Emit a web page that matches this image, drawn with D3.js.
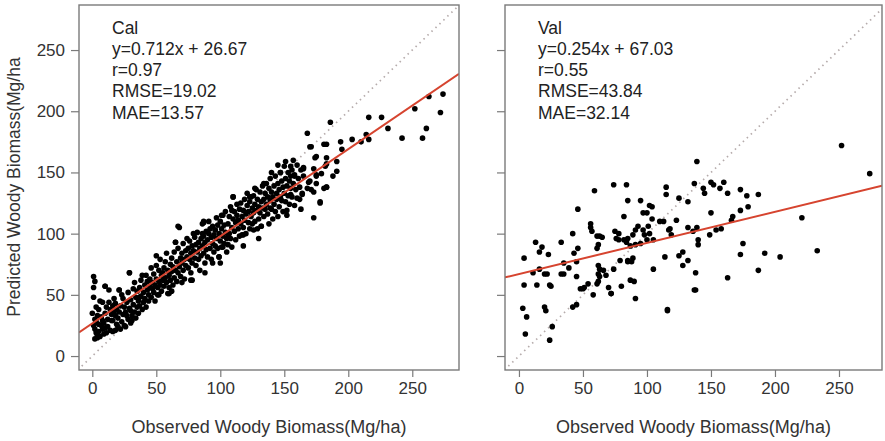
<!DOCTYPE html>
<html>
<head>
<meta charset="utf-8">
<script src="https://cdn.jsdelivr.net/npm/d3@7"></script>
<style>
  body { margin: 0; background: #fff; }
  text { font-family: 'Liberation Sans', Arial, sans-serif; }
</style>
</head>
<body>
<div id="chart"></div>
<script>
// observed vs predicted woody biomass (Mg/ha)
const calPoints = [
  [1, 65], [2, 61], [1, 48], [0, 35], [2, 30], [1, 25], [3, 19], [4, 15], [2, 22], [3, 28], [4, 33], [5, 20], [3, 40], [5, 26], [4, 17], [2, 14], [5, 38], [1, 56],
  [6, 16], [7, 32], [8, 22], [8, 44], [10, 57], [9, 27], [10, 35], [11, 19], [12, 24], [13, 44], [13, 54], [12, 30], [14, 21], [14, 38], [6, 45], [7, 25], [9, 18], [11, 40], [15, 29], [15, 34], [10, 23], [8, 29],
  [16, 20], [16, 29], [17, 36], [18, 21], [18, 43], [19, 26], [20, 31], [21, 54], [21, 36], [22, 22], [22, 41], [23, 28], [24, 47], [24, 34], [25, 25], [17, 47], [19, 38], [20, 24], [23, 50], [25, 40], [18, 33], [16, 41],
  [26, 24], [26, 36], [27, 44], [28, 30], [28, 52], [29, 68], [29, 39], [30, 27], [30, 46], [31, 33], [31, 29], [32, 55], [32, 42], [33, 36], [34, 48], [34, 31], [35, 53], [35, 40], [27, 33], [33, 60], [30, 37],
  [36, 35], [36, 45], [37, 56], [37, 41], [38, 49], [38, 62], [39, 38], [40, 52], [40, 44], [41, 58], [41, 47], [42, 66], [42, 40], [43, 54], [43, 61], [44, 45], [44, 50], [45, 63], [45, 57], [39, 66], [37, 48],
  [46, 48], [46, 72], [47, 55], [47, 60], [48, 52], [48, 67], [49, 58], [50, 74], [50, 63], [51, 50], [51, 56], [52, 70], [52, 61], [53, 58], [53, 79], [54, 66], [54, 53], [55, 68], [55, 62], [49, 45], [50, 82],
  [56, 57], [56, 72], [57, 64], [57, 77], [58, 60], [58, 84], [59, 70], [60, 66], [60, 56], [61, 75], [61, 62], [62, 80], [62, 69], [63, 58], [63, 73], [64, 85], [64, 64], [65, 70], [65, 93], [59, 51], [62, 53],
  [66, 77], [66, 61], [67, 68], [67, 88], [68, 73], [68, 105], [69, 80], [69, 65], [70, 84], [70, 76], [71, 70], [71, 92], [72, 79], [72, 63], [73, 86], [73, 74], [74, 81], [74, 96], [75, 72], [75, 88], [70, 60],
  [76, 79], [76, 94], [77, 84], [77, 68], [78, 90], [78, 76], [79, 86], [80, 97], [80, 80], [81, 74], [81, 91], [82, 85], [82, 101], [83, 79], [83, 93], [84, 88], [84, 70], [85, 96], [85, 82], [79, 100], [77, 62],
  [86, 90], [86, 108], [87, 84], [87, 98], [88, 93], [88, 76], [89, 102], [89, 87], [90, 95], [90, 81], [91, 100], [91, 110], [92, 88], [92, 104], [93, 97], [93, 79], [94, 92], [94, 106], [95, 99], [95, 85], [88, 68],
  [96, 103], [96, 90], [97, 96], [97, 113], [98, 88], [98, 107], [99, 100], [99, 81], [100, 94], [100, 110], [101, 104], [101, 89], [102, 115], [102, 98], [103, 92], [103, 107], [104, 101], [104, 118], [105, 96], [105, 85], [100, 76],
  [106, 108], [106, 91], [107, 114], [107, 100], [108, 96], [108, 122], [109, 105], [109, 89], [110, 112], [110, 130], [111, 102], [111, 118], [112, 95], [112, 109], [113, 115], [113, 124], [114, 104], [114, 111], [115, 120], [115, 98],
  [116, 108], [116, 125], [117, 114], [117, 99], [118, 119], [118, 105], [119, 128], [119, 111], [120, 116], [120, 100], [121, 123], [121, 133], [122, 109], [122, 118], [123, 126], [123, 104], [124, 114], [124, 130], [125, 121], [125, 108], [118, 90],
  [126, 117], [126, 131], [127, 110], [127, 124], [128, 136], [128, 119], [129, 104], [129, 128], [130, 122], [130, 112], [131, 134], [131, 117], [132, 126], [132, 106], [133, 121], [133, 139], [134, 128], [134, 114], [135, 133], [135, 120], [130, 96],
  [136, 124], [136, 141], [137, 116], [137, 130], [138, 137], [138, 108], [139, 127], [139, 145], [140, 120], [140, 134], [141, 130], [141, 112], [142, 139], [142, 124], [143, 147], [143, 118], [144, 133], [144, 128], [145, 141], [145, 114],
  [146, 136], [146, 122], [147, 150], [147, 130], [148, 127], [148, 143], [149, 118], [149, 138], [150, 133], [150, 155], [151, 126], [151, 145], [152, 139], [152, 115], [153, 131], [153, 150], [154, 143], [154, 124], [155, 137], [155, 147],
  [156, 130], [156, 152], [157, 141], [158, 123], [158, 148], [159, 136], [160, 156], [160, 129], [161, 145], [162, 138], [163, 152], [163, 120], [164, 133], [165, 147], [157, 160],
  [67, 106], [87, 109], [65, 93], [29, 68], [10, 57], [21, 54], [52, 50], [60, 51], [78, 62], [94, 76], [99, 81], [102, 89],
  [145, 156], [151, 159], [155, 155], [140, 150], [147, 150], [158, 147], [165, 153], [175, 148], [182, 155], [183, 138], [169, 142], [171, 136], [178, 126], [173, 113], [162, 128], [155, 132], [152, 119], [139, 121], [134, 141], [127, 137], [123, 130], [110, 130], [109, 119], [114, 111], [101, 115], [87, 110], [86, 100], [96, 103], [106, 98], [118, 99], [126, 103], [132, 106],
  [186, 191], [168, 182], [216, 195], [226, 195], [231, 186], [252, 202], [263, 212], [274, 214], [272, 199], [261, 186], [258, 178], [242, 178], [216, 177], [214, 181], [210, 175], [203, 177], [194, 175], [195, 169], [171, 171], [181, 173], [183, 173], [174, 162], [183, 162], [165, 154], [173, 153], [191, 159], [191, 151], [183, 157], [175, 147], [179, 149], [188, 147], [170, 143], [175, 141], [168, 137], [183, 138], [181, 137], [164, 132], [173, 134], [178, 125], [170, 171], [175, 163]
];

const valPoints = [
  [252, 172], [274, 149], [139, 159], [59, 135], [74, 140], [84, 140], [115, 138], [115, 132], [137, 141], [144, 137], [145, 133], [150, 142], [152, 140], [157, 137], [160, 142], [163, 133], [173, 136], [178, 131], [187, 132],
  [173, 119], [179, 122], [167, 114], [150, 117], [221, 113], [233, 86], [204, 81], [192, 84], [187, 70], [175, 92], [173, 83], [163, 64], [138, 68], [138, 54], [116, 37],
  [140, 91], [140, 95], [139, 105], [136, 102], [132, 105], [132, 126], [125, 129], [123, 111], [118, 104], [119, 99], [117, 103], [113, 110], [110, 110], [104, 112], [104, 122], [102, 123], [97, 117], [100, 117], [95, 127], [85, 127], [82, 114],
  [93, 106], [101, 106], [97, 103], [91, 103], [89, 99], [98, 99], [102, 100], [105, 95], [100, 95], [95, 92], [91, 91], [87, 90], [85, 96], [84, 93], [78, 100], [75, 102], [76, 96], [78, 95], [82, 95],
  [63, 98], [65, 97], [62, 91], [61, 88], [56, 105], [57, 102], [56, 108], [46, 120], [42, 100], [46, 88], [43, 84], [33, 93], [13, 93], [18, 89], [16, 85], [23, 83], [4, 80],
  [11, 68], [16, 71], [20, 67], [22, 67], [35, 76], [33, 67], [39, 72], [45, 77], [45, 65], [24, 58], [14, 58], [4, 58], [3, 39], [6, 32], [20, 40], [21, 37], [26, 24], [42, 40], [45, 42],
  [48, 55], [50, 55], [54, 59], [58, 50], [61, 59], [62, 61], [63, 65], [62, 67], [62, 74], [63, 71], [66, 70], [68, 66], [70, 56], [72, 51], [74, 71], [79, 78], [80, 57], [85, 78], [85, 77], [88, 77], [89, 80],
  [87, 62], [90, 61], [91, 47], [105, 71], [114, 81], [125, 82], [128, 85], [132, 78], [128, 74], [25, 57], [35, 67], [61, 98], [149, 99], [154, 103], [158, 104], [166, 111],
  [5, 18], [24, 13], [51, 56], [72, 51], [116, 38], [137, 54]
];

const tickValues = [0, 50, 100, 150, 200, 250];

const calStats = ['Cal', 'y=0.712x + 26.67', 'r=0.97', 'RMSE=19.02', 'MAE=13.57'];
const valStats = ['Val', 'y=0.254x + 67.03', 'r=0.55', 'RMSE=43.84', 'MAE=32.14'];

// slope, intercept of the fitted lines
const calFit = [0.712, 26.67];
const valFit = [0.254, 67.03];

const xLabel = 'Observed Woody Biomass(Mg/ha)';
const yLabel = 'Predicted Woody Biomass(Mg/ha';

// layout
const width = 885;
const height = 441;
const plotTop = 5;
const plotBottom = 370;
const yDomain = [-11.4, 286.8];

const panels = [
  { id: 'cal', left: 79, right: 459, xDomain: [-10.4, 286.5], points: calPoints, stats: calStats, fit: calFit, yLabels: true },
  { id: 'val', left: 505, right: 882, xDomain: [-10.9, 283.6], points: valPoints, stats: valStats, fit: valFit, yLabels: false }
];

const svg = d3.select('#chart')
  .append('svg')
  .attr('width', width)
  .attr('height', height);

const y = d3.scaleLinear().domain(yDomain).range([plotBottom, plotTop]);

panels.forEach(function (p) {
  const x = d3.scaleLinear().domain(p.xDomain).range([p.left, p.right]);

  svg.append('clipPath')
    .attr('id', 'clip-' + p.id)
    .append('rect')
    .attr('x', p.left)
    .attr('y', plotTop)
    .attr('width', p.right - p.left)
    .attr('height', plotBottom - plotTop);

  const plot = svg.append('g').attr('clip-path', `url(#clip-${p.id})`);

  // 1:1 reference line
  const lo = Math.min(p.xDomain[0], yDomain[0]);
  const hi = Math.max(p.xDomain[1], yDomain[1]);
  plot.append('line')
    .attr('x1', x(lo)).attr('y1', y(lo))
    .attr('x2', x(hi)).attr('y2', y(hi))
    .attr('stroke', '#b5abab')
    .attr('stroke-width', 1.7)
    .attr('stroke-dasharray', '1.5,4');

  // points
  plot.selectAll('circle')
    .data(p.points)
    .join('circle')
    .attr('cx', d => x(d[0]))
    .attr('cy', d => y(d[1]))
    .attr('r', 2.8)
    .attr('fill', '#000');

  // fitted line
  plot.append('line')
    .attr('x1', x(p.xDomain[0])).attr('y1', y(p.fit[0] * p.xDomain[0] + p.fit[1]))
    .attr('x2', x(p.xDomain[1])).attr('y2', y(p.fit[0] * p.xDomain[1] + p.fit[1]))
    .attr('stroke', '#d6442f')
    .attr('stroke-width', 2);

  // axes
  const xAxis = svg.append('g')
    .attr('transform', `translate(0, ${plotBottom})`)
    .call(d3.axisBottom(x).tickValues(tickValues).tickSize(7).tickPadding(5));
  const yAxis = svg.append('g')
    .attr('transform', `translate(${p.left}, 0)`)
    .call(d3.axisLeft(y).tickValues(tickValues).tickSize(8).tickPadding(6)
      .tickFormat(p.yLabels ? d3.format('d') : ''));
  [xAxis, yAxis].forEach(function (a) {
    a.select('.domain').remove();
    a.selectAll('line').attr('stroke', '#7a7a7a').attr('stroke-width', 1.2);
    a.selectAll('text')
      .attr('fill', '#333')
      .style('font-size', '17px')
      .style('font-family', "'Liberation Sans', Arial, sans-serif");
  });

  // frame
  svg.append('rect')
    .attr('x', p.left)
    .attr('y', plotTop)
    .attr('width', p.right - p.left)
    .attr('height', plotBottom - plotTop)
    .attr('fill', 'none')
    .attr('stroke', '#7a7a7a')
    .attr('stroke-width', 1.4);

  // statistics text
  svg.append('g')
    .selectAll('text')
    .data(p.stats)
    .join('text')
    .attr('x', p.left + 33)
    .attr('y', (d, i) => 33.5 + i * 21.3)
    .attr('fill', '#222')
    .style('font-size', '17.5px')
    .text(d => d);

  // x axis title
  svg.append('text')
    .attr('x', (p.left + p.right) / 2)
    .attr('y', 433)
    .attr('text-anchor', 'middle')
    .attr('fill', '#333')
    .style('font-size', '18px')
    .text(xLabel);
});

// y axis title
svg.append('text')
  .attr('transform', 'translate(20, 187) rotate(-90)')
  .attr('text-anchor', 'middle')
  .attr('fill', '#333')
  .style('font-size', '17.5px')
  .text(yLabel);
</script>
</body>
</html>
